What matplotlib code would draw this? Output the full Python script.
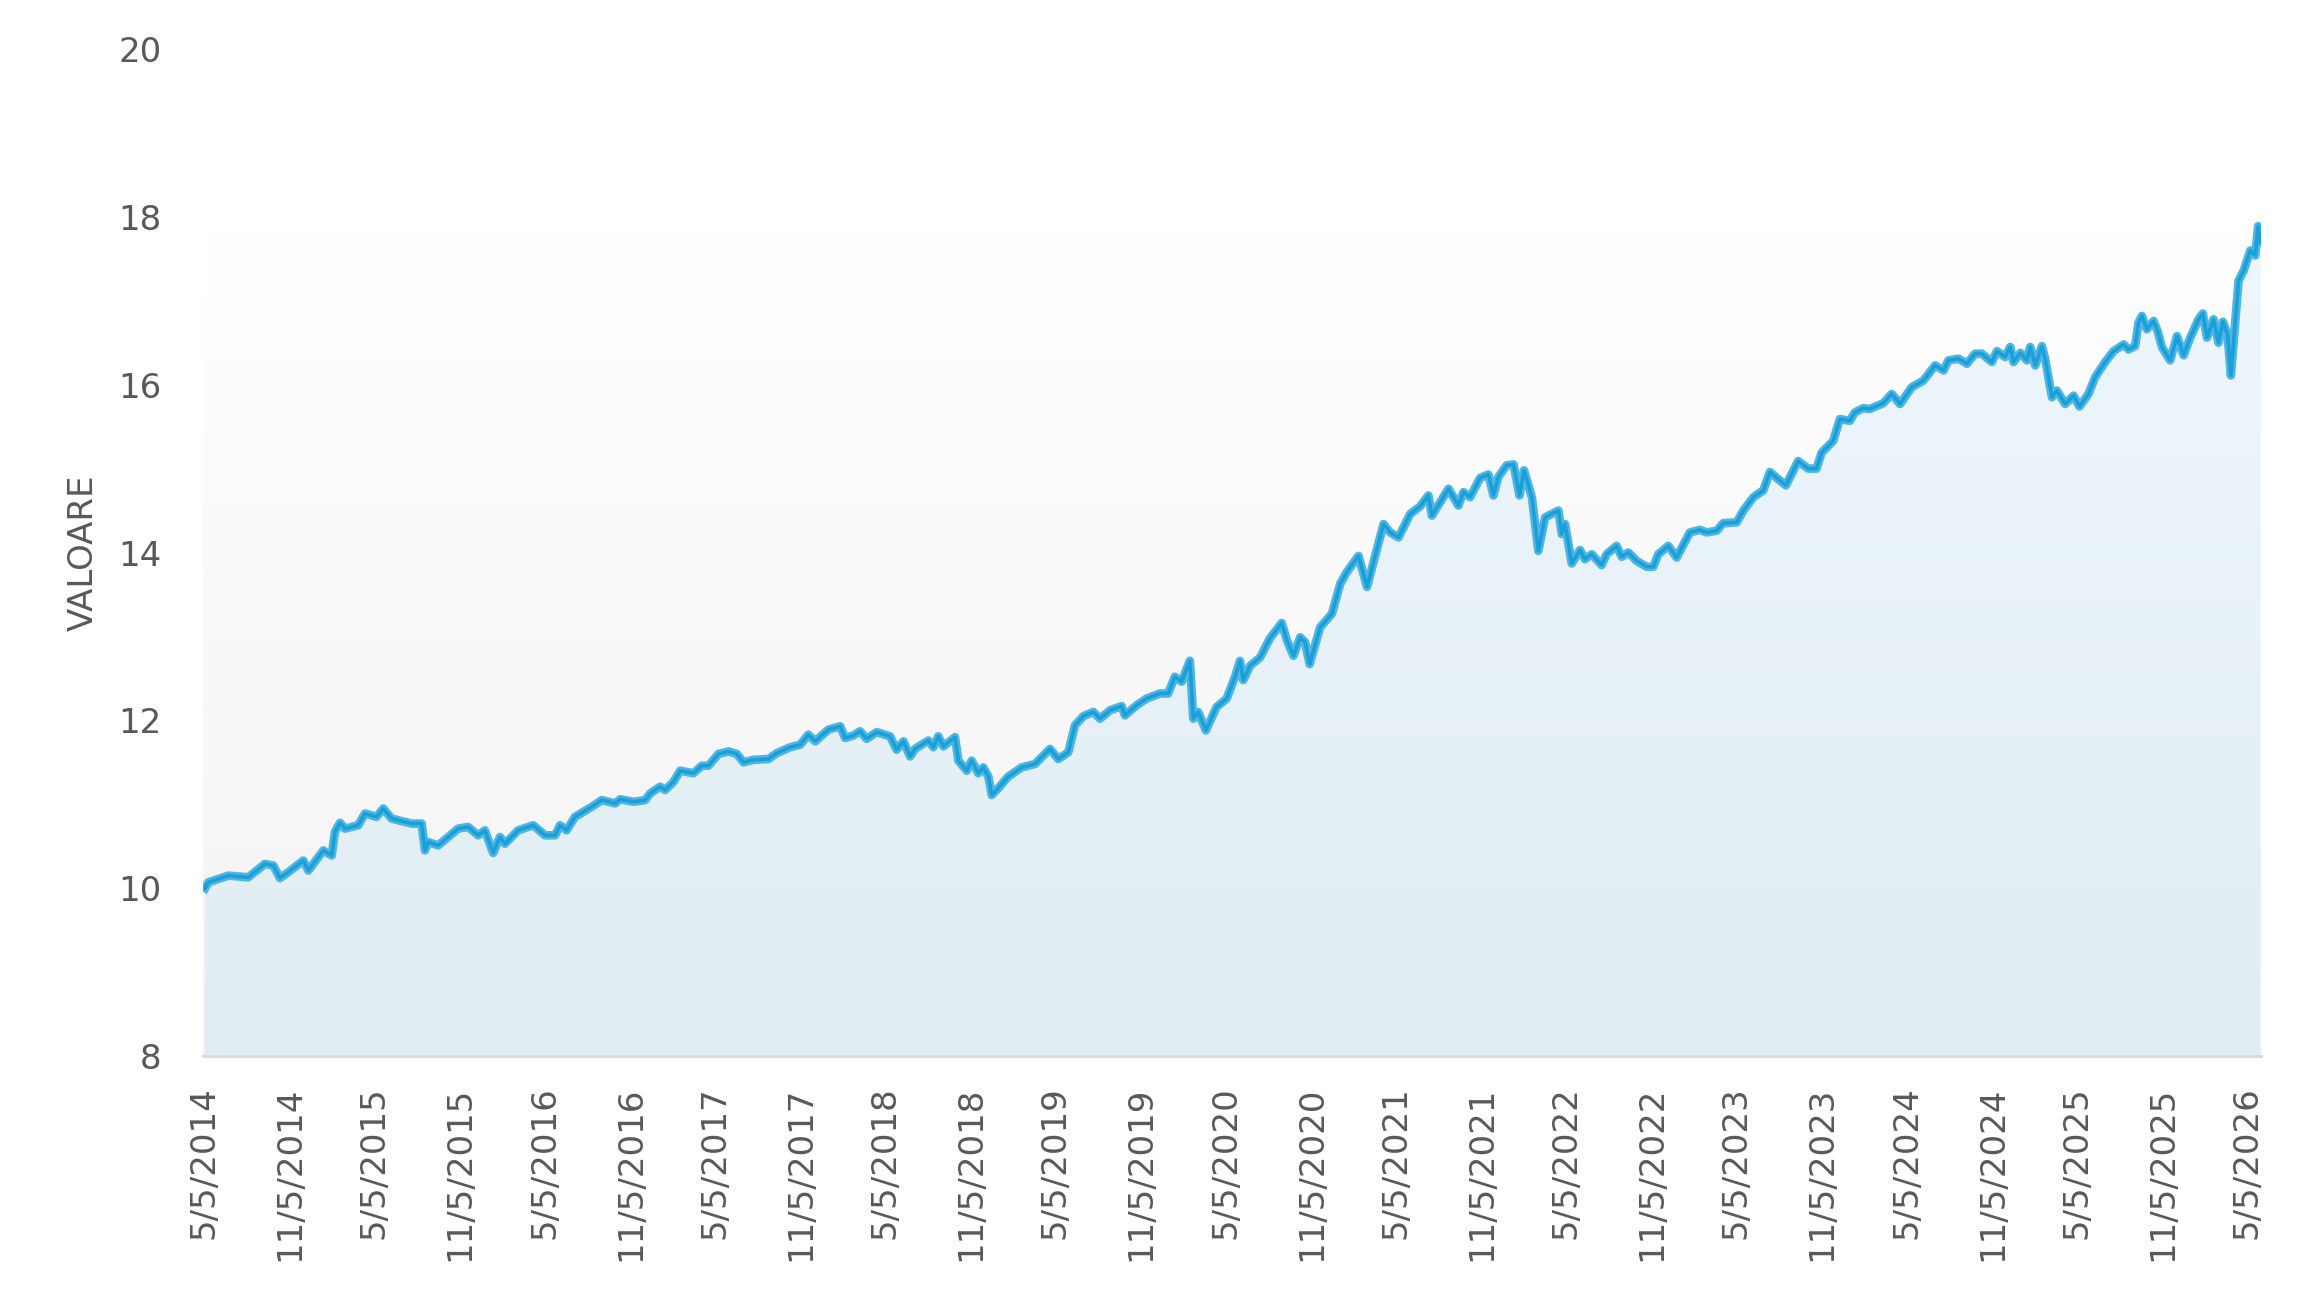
import matplotlib
matplotlib.use("Agg")
import matplotlib.pyplot as plt
import matplotlib.dates as mdates
from matplotlib.colors import LinearSegmentedColormap
import numpy as np
import pandas as pd

plt.rcParams['font.family'] = ['DejaVu Sans']

# values, x as decimal years
years = [
    2014.346, 2014.365, 2014.483, 2014.600, 2014.698, 2014.747, 2014.786, 2014.835, 2014.923, 2014.953,
    2015.041, 2015.090, 2015.109, 2015.139, 2015.168, 2015.246, 2015.286, 2015.354, 2015.393, 2015.442,
    2015.560, 2015.619, 2015.638, 2015.657, 2015.716, 2015.834, 2015.892, 2015.951, 2015.990, 2016.039,
    2016.079, 2016.108, 2016.186, 2016.274, 2016.343, 2016.402, 2016.431, 2016.470, 2016.519, 2016.617,
    2016.676, 2016.754, 2016.783, 2016.862, 2016.930, 2016.960, 2017.018, 2017.048, 2017.097, 2017.136,
    2017.214, 2017.263, 2017.302, 2017.361, 2017.420, 2017.469, 2017.508, 2017.567, 2017.655, 2017.704,
    2017.782, 2017.841, 2017.889, 2017.929, 2018.007, 2018.076, 2018.105, 2018.154, 2018.193, 2018.232,
    2018.291, 2018.369, 2018.408, 2018.448, 2018.487, 2018.516, 2018.594, 2018.624, 2018.653, 2018.683,
    2018.751, 2018.771, 2018.820, 2018.849, 2018.888, 2018.917, 2018.947, 2018.967, 2018.996, 2019.064,
    2019.143, 2019.221, 2019.309, 2019.358, 2019.417, 2019.456, 2019.505, 2019.564, 2019.603, 2019.662,
    2019.730, 2019.750, 2019.819, 2019.877, 2019.955, 2020.004, 2020.043, 2020.083, 2020.131, 2020.151,
    2020.180, 2020.225, 2020.288, 2020.347, 2020.396, 2020.425, 2020.444, 2020.484, 2020.543, 2020.601,
    2020.670, 2020.699, 2020.738, 2020.778, 2020.807, 2020.833, 2020.895, 2020.964, 2021.013, 2021.052,
    2021.120, 2021.170, 2021.218, 2021.267, 2021.306, 2021.355, 2021.424, 2021.482, 2021.531, 2021.551,
    2021.649, 2021.707, 2021.737, 2021.776, 2021.835, 2021.884, 2021.913, 2021.942, 2021.991, 2022.031,
    2022.066, 2022.093, 2022.139, 2022.177, 2022.217, 2022.256, 2022.295, 2022.315, 2022.334, 2022.373,
    2022.422, 2022.451, 2022.491, 2022.549, 2022.578, 2022.637, 2022.667, 2022.706, 2022.755, 2022.814,
    2022.853, 2022.882, 2022.941, 2022.990, 2023.068, 2023.127, 2023.166, 2023.225, 2023.264, 2023.343,
    2023.382, 2023.441, 2023.499, 2023.538, 2023.578, 2023.632, 2023.704, 2023.763, 2023.812, 2023.842,
    2023.910, 2023.949, 2024.008, 2024.037, 2024.086, 2024.125, 2024.204, 2024.253, 2024.302, 2024.371,
    2024.439, 2024.508, 2024.557, 2024.586, 2024.645, 2024.694, 2024.742, 2024.782, 2024.840, 2024.870,
    2024.918, 2024.948, 2024.967, 2025.007, 2025.046, 2025.065, 2025.095, 2025.134, 2025.153, 2025.193,
    2025.222, 2025.271, 2025.320, 2025.355, 2025.408, 2025.447, 2025.506, 2025.555, 2025.614, 2025.643,
    2025.682, 2025.702, 2025.722, 2025.751, 2025.790, 2025.814, 2025.839, 2025.888, 2025.928, 2025.967,
    2026.006, 2026.055, 2026.080, 2026.104, 2026.143, 2026.172, 2026.198, 2026.225, 2026.245, 2026.271,
    2026.290, 2026.320, 2026.359, 2026.388, 2026.405, 2026.418,
]
values = [
    10.00, 10.07, 10.15, 10.13, 10.29, 10.27, 10.12, 10.19, 10.33, 10.21,
    10.45, 10.39, 10.67, 10.78, 10.71, 10.75, 10.89, 10.85, 10.95, 10.83,
    10.77, 10.77, 10.45, 10.55, 10.51, 10.71, 10.73, 10.63, 10.69, 10.42,
    10.61, 10.53, 10.69, 10.75, 10.63, 10.63, 10.75, 10.69, 10.85, 10.97,
    11.05, 11.01, 11.06, 11.03, 11.05, 11.13, 11.21, 11.17, 11.27, 11.40,
    11.37, 11.46, 11.46, 11.60, 11.63, 11.60, 11.50, 11.53, 11.54, 11.61,
    11.68, 11.71, 11.83, 11.75, 11.89, 11.93, 11.79, 11.82, 11.87, 11.78,
    11.86, 11.81, 11.65, 11.75, 11.57, 11.66, 11.76, 11.68, 11.81, 11.69,
    11.80, 11.52, 11.40, 11.52, 11.37, 11.44, 11.33, 11.11, 11.17, 11.33,
    11.44, 11.48, 11.66, 11.54, 11.62, 11.94, 12.05, 12.10, 12.02, 12.12,
    12.17, 12.06, 12.18, 12.26, 12.32, 12.32, 12.52, 12.46, 12.71, 12.02,
    12.10, 11.88, 12.16, 12.26, 12.52, 12.71, 12.48, 12.65, 12.75, 12.98,
    13.16, 12.96, 12.77, 12.99, 12.93, 12.67, 13.11, 13.27, 13.63, 13.77,
    13.96, 13.59, 13.96, 14.34, 14.24, 14.18, 14.46, 14.55, 14.68, 14.44,
    14.76, 14.56, 14.72, 14.66, 14.89, 14.93, 14.68, 14.90, 15.04, 15.05,
    14.68, 14.98, 14.66, 14.02, 14.42, 14.46, 14.50, 14.22, 14.34, 13.87,
    14.03, 13.92, 13.98, 13.85, 13.98, 14.08, 13.95, 14.00, 13.90, 13.83,
    13.83, 13.98, 14.08, 13.94, 14.24, 14.27, 14.24, 14.26, 14.35, 14.36,
    14.50, 14.66, 14.74, 14.96, 14.89, 14.80, 15.09, 15.00, 15.00, 15.19,
    15.33, 15.59, 15.57, 15.67, 15.72, 15.71, 15.78, 15.89, 15.77, 15.97,
    16.05, 16.23, 16.17, 16.29, 16.31, 16.25, 16.37, 16.37, 16.27, 16.40,
    16.33, 16.45, 16.27, 16.38, 16.29, 16.45, 16.23, 16.46, 16.31, 15.85,
    15.93, 15.77, 15.87, 15.74, 15.89, 16.09, 16.27, 16.40, 16.48, 16.42,
    16.46, 16.74, 16.82, 16.66, 16.76, 16.64, 16.45, 16.29, 16.58, 16.35,
    16.56, 16.78, 16.85, 16.56, 16.78, 16.50, 16.75, 16.60, 16.11, 16.76,
    17.24, 17.36, 17.60, 17.54, 17.89, 17.70,
]
tick_dates = [f"{y}-{m:02d}-05" for y in range(2014, 2027) for m in (5, 11)][:-1]


def to_date(y):
    start = pd.Timestamp(int(y), 1, 1)
    n = (pd.Timestamp(int(y) + 1, 1, 1) - start).days
    return start + pd.Timedelta(days=(y - int(y)) * n)


dates = [to_date(y) for y in years]
xnum = mdates.date2num(dates)
x0 = mdates.date2num(to_date(2014.334))
x1 = mdates.date2num(to_date(2026.422))
vmax = max(values)

fig = plt.figure(figsize=(23.1, 12.94), dpi=100)
ax = fig.add_axes([0.0879, 0.1839, 0.8909, 0.7782])

grad = np.linspace(0, 1, 256).reshape(-1, 1)
grey = LinearSegmentedColormap.from_list('grey', ['#ffffff', '#f3f3f3'])
blue = LinearSegmentedColormap.from_list('blue', ['#eef7fd', '#e1ecf3'])
ax.imshow(grad, extent=[x0, x1, 8, vmax], cmap=grey, aspect='auto', zorder=0)
poly = ax.fill_between(xnum, values, 8, color='none', lw=0)
img = ax.imshow(grad, extent=[x0, x1, 8, vmax], cmap=blue, aspect='auto', zorder=1)
img.set_clip_path(poly.get_paths()[0], ax.transData)

ax.plot(xnum, values, color='#4db6e4', lw=6.2, solid_joinstyle='round', zorder=3)
ax.plot(xnum, values, color='#1a9fd8', lw=2.6, solid_joinstyle='round', zorder=4)

ax.set_xlim(x0, x1)
ax.set_ylim(8, 20)
ax.set_yticks(range(8, 21, 2))
ticks = mdates.date2num(pd.to_datetime(tick_dates))
ax.set_xticks(ticks)
ax.set_xticklabels([f"{d.month}/{d.day}/{d.year}" for d in pd.to_datetime(tick_dates)], rotation=90)

for s in ['top', 'right', 'left']:
    ax.spines[s].set_visible(False)
ax.spines['bottom'].set_color('#d6dce1')
ax.spines['bottom'].set_linewidth(2.2)
ax.spines['bottom'].set_zorder(5)

ax.tick_params(axis='both', length=0, labelsize=24.5, labelcolor='#595959')
ax.tick_params(axis='y', pad=30)
ax.tick_params(axis='x', pad=22)

ax.set_ylabel('VALOARE', fontsize=24.5, color='#595959')
ax.yaxis.set_label_coords(-0.050, 0.5)

fig.savefig('out.png', dpi=100, facecolor='white')
